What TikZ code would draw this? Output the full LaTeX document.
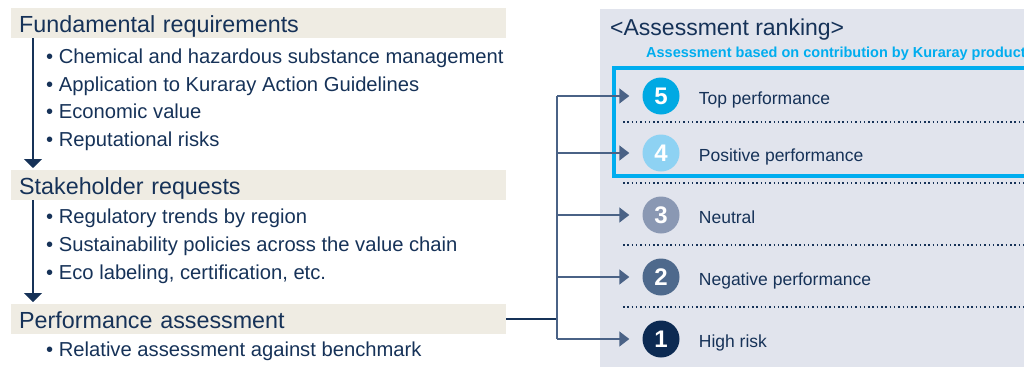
\documentclass[tikz,border=0pt]{standalone}
\usepackage{fontspec}
\setmainfont{Liberation Sans}
\usetikzlibrary{arrows.meta,positioning}

\definecolor{navy}{HTML}{163258}
\definecolor{beige}{HTML}{EFECE3}
\definecolor{panel}{HTML}{E1E4ED}
\definecolor{kcyan}{HTML}{00ADEF}
\definecolor{linkblue}{HTML}{4A6286}
\definecolor{rank5}{HTML}{00A9E3}
\definecolor{rank4}{HTML}{8ED2F3}
\definecolor{rank3}{HTML}{8A98B3}
\definecolor{rank2}{HTML}{4E698C}
\definecolor{rank1}{HTML}{0C2A52}

\tikzset{
  header/.style={anchor=north west, fill=beige, text=navy, minimum height=30pt,
    text width=479pt, inner xsep=8pt, inner ysep=0pt, align=left,
    text height=24pt, text depth=6pt, font=\fontsize{23.3}{27}\selectfont},
  item/.style={anchor=base west, inner sep=0pt, text=navy,
    font=\fontsize{20.2}{24}\selectfont},
  flow/.style={navy, line width=1.5pt, -{Triangle[length=9pt,width=18pt]}},
  link/.style={linkblue, line width=1.5pt},
  branch/.style={link, -{Triangle[length=10pt,width=15pt]}},
  rank/.style={circle, minimum size=37pt, inner sep=0pt, text=white,
    font=\fontsize{24}{24}\selectfont\bfseries},
  rlabel/.style={anchor=west, inner sep=0pt, text=navy, text height=16pt,
    text depth=0pt, font=\fontsize{17.5}{20}\selectfont},
  sep/.style={navy, line width=1.5pt, dash pattern=on 1.5pt off 2.8pt}
}

\begin{document}
\begin{tikzpicture}[x=1pt,y=-1pt]
\path[use as bounding box, clip] (0,0) rectangle (1024,367);
% Panel of the ranking
\fill[panel] (600,9) rectangle (1024,367);
\node[anchor=base west, inner sep=0pt, text=navy, font=\fontsize{23}{27}\selectfont]
  (title) at (610,35) {<Assessment ranking>};
\node[anchor=base west, inner sep=0pt, text=kcyan, font=\fontsize{14.5}{17}\selectfont\bfseries]
  (sub) at (646,57) {Assessment based on contribution by Kuraray product};
% Frame of the positive ranks
\draw[kcyan, line width=4pt] (614,68) rectangle (1040,176);

% Headers
\node[header] (fund) at (11,8) {Fundamental requirements};
\node[header] (stake) at (11,170) {Stakeholder requests};
\node[header] (perf) at (11,304) {Performance assessment};

% Items of each header
\node[item] (f1) at (46,63) {• Chemical and hazardous substance management};
\node[item] (f2) at (46,91) {• Application to Kuraray Action Guidelines};
\node[item] (f3) at (46,118.5) {• Economic value};
\node[item] (f4) at (46,146) {• Reputational risks};
\node[item] (s1) at (46,223) {• Regulatory trends by region};
\node[item] (s2) at (46,251) {• Sustainability policies across the value chain};
\node[item] (s3) at (46,279) {• Eco labeling, certification, etc.};
\node[item] (p1) at (46,356) {• Relative assessment against benchmark};

% Flow between headers
\draw[flow, shorten >=2pt] ([xshift=22pt]fund.south west) -- ([xshift=22pt]stake.north west);
\draw[flow, shorten >=2pt] ([xshift=22pt]stake.south west) -- ([xshift=22pt]perf.north west);

% Ranks
\foreach \n/\y/\lab in {5/96/Top performance, 4/153/Positive performance,
    3/215/Neutral, 2/277/Negative performance, 1/339/High risk}{
  \node[rank, fill=rank\n] (r\n) at (661,\y) {\n};
  \node[rlabel, right=19pt of r\n] (l\n) {\lab};
}
% Dotted separators
\foreach \y in {122,183,245,307}
  \draw[sep] (623,\y) -- (1024,\y);

% Links to the ranks
\coordinate (bus) at (557,318);
\draw[navy, line width=1.5pt] (perf.east) -- (bus |- perf.east);
\draw[link] (bus |- r5) -- (bus |- r1);
\foreach \n in {5,4,3,2,1}
  \draw[branch] (bus |- r\n) -- ([xshift=-13pt]r\n.west);
\end{tikzpicture}
\end{document}
